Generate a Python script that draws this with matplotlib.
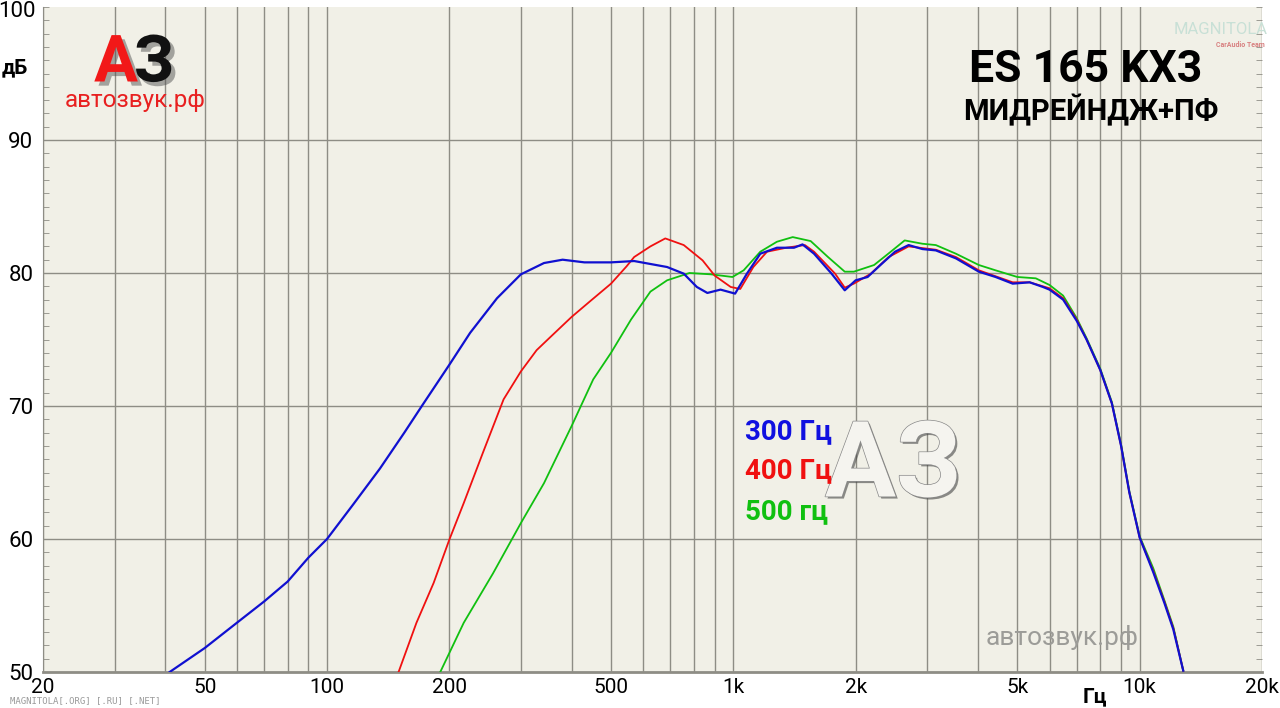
import numpy as np
import matplotlib
matplotlib.use("Agg")
import matplotlib.pyplot as plt
import matplotlib.patheffects as pe
from matplotlib.ticker import FixedLocator, MultipleLocator, NullFormatter

# Frequency response (Hz, dB)
f_300 = [41, 50, 60, 70, 80, 90, 100, 116, 135, 155, 172, 200, 225, 262, 300,
         342, 380, 430, 500, 570, 687, 755, 813, 863, 930, 1010, 1080, 1165,
         1280, 1410, 1480, 1580, 1745, 1880, 2000, 2140, 2320, 2500, 2700,
         2920, 3150, 3530, 4020, 4420, 4870, 5360, 5780, 6000, 6480, 7000,
         7400, 8000, 8540, 9000, 9430, 10000, 10800, 11500, 12100, 12800]
db_300 = [50.0, 51.8, 53.7, 55.3, 56.8, 58.6, 60.0, 62.6, 65.3, 68.0, 70.1,
          73.1, 75.5, 78.1, 79.9, 80.75, 81.0, 80.8, 80.8, 80.9, 80.45, 79.95,
          78.95, 78.5, 78.75, 78.45, 79.95, 81.45, 81.9, 81.9, 82.15, 81.45,
          79.95, 78.7, 79.45, 79.7, 80.7, 81.6, 82.1, 81.8, 81.7, 81.1, 80.1,
          79.7, 79.2, 79.3, 78.95, 78.75, 78.0, 76.4, 75.0, 72.7, 70.2, 67.0,
          63.5, 60.1, 57.5, 55.2, 53.2, 50.1]

f_400 = [150, 166, 183, 200, 217, 242, 272, 300, 328, 355, 400, 445, 500, 546,
         570, 625, 680, 755, 840, 900, 985, 1040, 1120, 1210, 1350, 1500, 1580,
         1780, 1880, 1980, 2180, 2410, 2700, 3150, 3530, 4020, 4870, 5360,
         6000, 6480, 7000, 7400, 8000, 8540, 9000, 9430, 10000, 10800, 11500,
         12100, 12800]
db_400 = [50.0, 53.7, 56.7, 59.95, 62.7, 66.5, 70.5, 72.6, 74.2, 75.2, 76.7,
          77.9, 79.2, 80.5, 81.2, 82.0, 82.6, 82.1, 80.95, 79.8, 78.95, 78.8,
          80.45, 81.6, 81.9, 82.1, 81.6, 79.95, 78.9, 79.2, 79.95, 81.2, 82.0,
          81.75, 81.2, 80.2, 79.3, 79.3, 78.85, 78.1, 76.5, 75.0, 72.7, 70.2,
          67.0, 63.5, 60.1, 57.6, 55.3, 53.3, 50.1]

f_500 = [190, 217, 256, 300, 342, 400, 452, 500, 560, 625, 687, 780, 880, 995,
         1060, 1165, 1280, 1400, 1550, 1710, 1880, 1980, 2220, 2440, 2640,
         2920, 3150, 3530, 4020, 4420, 5000, 5550, 6000, 6480, 7000, 7400,
         8000, 8540, 9000, 9430, 10000, 10800, 11500, 12100, 12800]
db_500 = [50.0, 53.7, 57.4, 61.2, 64.2, 68.5, 72.0, 74.0, 76.5, 78.6, 79.45,
          80.0, 79.9, 79.7, 80.2, 81.6, 82.35, 82.7, 82.4, 81.2, 80.1, 80.1,
          80.6, 81.6, 82.45, 82.2, 82.1, 81.45, 80.6, 80.2, 79.7, 79.6, 79.1,
          78.3, 76.6, 75.1, 72.8, 70.3, 67.1, 63.6, 60.2, 57.8, 55.4, 53.4,
          50.1]

x_grid = [20, 30, 40, 50, 60, 70, 80, 90, 100, 200, 300, 400, 500, 600, 700,
          800, 900, 1000, 2000, 3000, 4000, 5000, 6000, 7000, 8000, 9000,
          10000, 20000]
x_ticks = [20, 50, 100, 200, 500, 1000, 2000, 5000, 10000, 20000]
x_labels = ["20", "50", "100", "200", "500", "1k", "2k", "5k", "10k", "20k"]
y_ticks = [50, 60, 70, 80, 90]
y_top = 100

bg = "#f1f0e7"
grid_c = "#8e8d85"

fig = plt.figure(figsize=(12.8, 7.08), dpi=100)
ax = fig.add_axes([43 / 1280, 36 / 708, (1262 - 43) / 1280, (672 - 7) / 708])
ax.set_facecolor(bg)
ax.set_xscale("log")
ax.set_xlim(20, 20000)
ax.set_ylim(50, y_top)

for xv in x_grid:
    ax.axvline(xv, color=grid_c, lw=1.0, zorder=1)
for yv in [60, 70, 80, 90]:
    ax.axhline(yv, color=grid_c, lw=1.0, zorder=1)

ax.plot(f_500, db_500, color="#10c010", lw=1.3, zorder=3)
ax.plot(f_400, db_400, color="#f01010", lw=1.3, zorder=4)
ax.plot(f_300, db_300, color="#1010d0", lw=1.6, zorder=5)

ax.xaxis.set_major_locator(FixedLocator(x_ticks))
ax.xaxis.set_minor_formatter(NullFormatter())
ax.xaxis.set_minor_locator(FixedLocator([]))
ax.set_xticklabels(x_labels, fontsize=15, family="Roboto")
ax.tick_params(axis="x", length=0, pad=4)
ax.set_yticks(y_ticks)
ax.set_yticklabels([str(v) for v in y_ticks], fontsize=16, family="Roboto")
ax.yaxis.set_minor_locator(MultipleLocator(1))
ax.tick_params(axis="y", which="major", length=0, pad=7)
ax.tick_params(axis="y", which="minor", direction="in", length=4,
               color=grid_c, left=True, right=True)
for side in ["top", "right"]:
    ax.spines[side].set_visible(False)
ax.spines["left"].set_color(grid_c)
ax.spines["bottom"].set_color(grid_c)
ax.spines["bottom"].set_linewidth(2)
# top label sits against the figure edge, so it is placed by hand
fig.text(36 / 1280, 1 - 1 / 708, str(y_top), fontsize=16, family="Roboto",
         ha="right", va="top")

# texts
fig.text(15 / 1280, 1 - 68 / 708, "дБ", fontsize=15, fontweight="bold",
         family="Roboto", ha="center", va="center")
fig.text(1095 / 1280, 1 - 697 / 708, "Гц", fontsize=15, fontweight="bold",
         family="Roboto", ha="center", va="center")
fig.text(10 / 1280, 1 - 701 / 708, "MAGNITOLA[.ORG] [.RU] [.NET]", fontsize=6.5,
         family="DejaVu Sans Mono", color="#9a9a9a", ha="left", va="center")

fig.text(1086 / 1280, 1 - 70 / 708, "ES 165 KX3", fontsize=32, fontweight="bold",
         family="Roboto", ha="center", va="center")
fig.text(1091 / 1280, 1 - 110 / 708, "МИДРЕЙНДЖ+ПФ", fontsize=21, fontweight="bold",
         family="Roboto", ha="center", va="center")

# logo
shadow = [pe.withSimplePatchShadow(offset=(3, -3), shadow_rgbFace="#555555", alpha=0.5)]
fig.text(116 / 1280, 1 - 64 / 708, "А", fontsize=47, fontweight="bold",
         family="Roboto", color="#f21818", ha="center", va="center",
         path_effects=shadow)
fig.text(154 / 1280, 1 - 64 / 708, "З", fontsize=47, fontweight="bold",
         family="Roboto", color="#111111", ha="center", va="center",
         path_effects=shadow)
fig.text(135 / 1280, 1 - 101 / 708, "автозвук.рф", fontsize=17.5,
         family="Roboto", color="#e82020", ha="center", va="center")

fig.text(1221 / 1280, 1 - 30 / 708, "MAGNITOLA", fontsize=12,
         family="Roboto", color="#c8e0d6", ha="center", va="center")
fig.text(1240 / 1280, 1 - 45 / 708, "CarAudio Team", fontsize=5,
         fontweight="bold", family="Roboto", color="#d88080", ha="center",
         va="center")

# legend
fig.text(745 / 1280, 1 - 432 / 708, "300 Гц", fontsize=20, fontweight="bold",
         family="Roboto", color="#1010e0", ha="left", va="center", zorder=5)
fig.text(745 / 1280, 1 - 471 / 708, "400 Гц", fontsize=20, fontweight="bold",
         family="Roboto", color="#f01010", ha="left", va="center", zorder=5)
fig.text(745 / 1280, 1 - 512 / 708, "500 гц", fontsize=20, fontweight="bold",
         family="Roboto", color="#10c010", ha="left", va="center", zorder=5)

# watermarks
fig.text(893 / 1280, 1 - 468 / 708, "АЗ", fontsize=76, fontweight="bold",
         family="Roboto", color="#f5f4ef", ha="center", va="center", zorder=0,
         path_effects=[pe.withSimplePatchShadow(offset=(1.5, -1.5),
                                                shadow_rgbFace="#444444", alpha=0.6),
                       pe.withStroke(linewidth=1.0, foreground="#888888")])
fig.text(1062 / 1280, 1 - 637 / 708, "автозвук.рф", fontsize=19,
         family="Roboto", color="#9c9c98", ha="center", va="center")

fig.savefig("out.png", dpi=100, facecolor="white")
